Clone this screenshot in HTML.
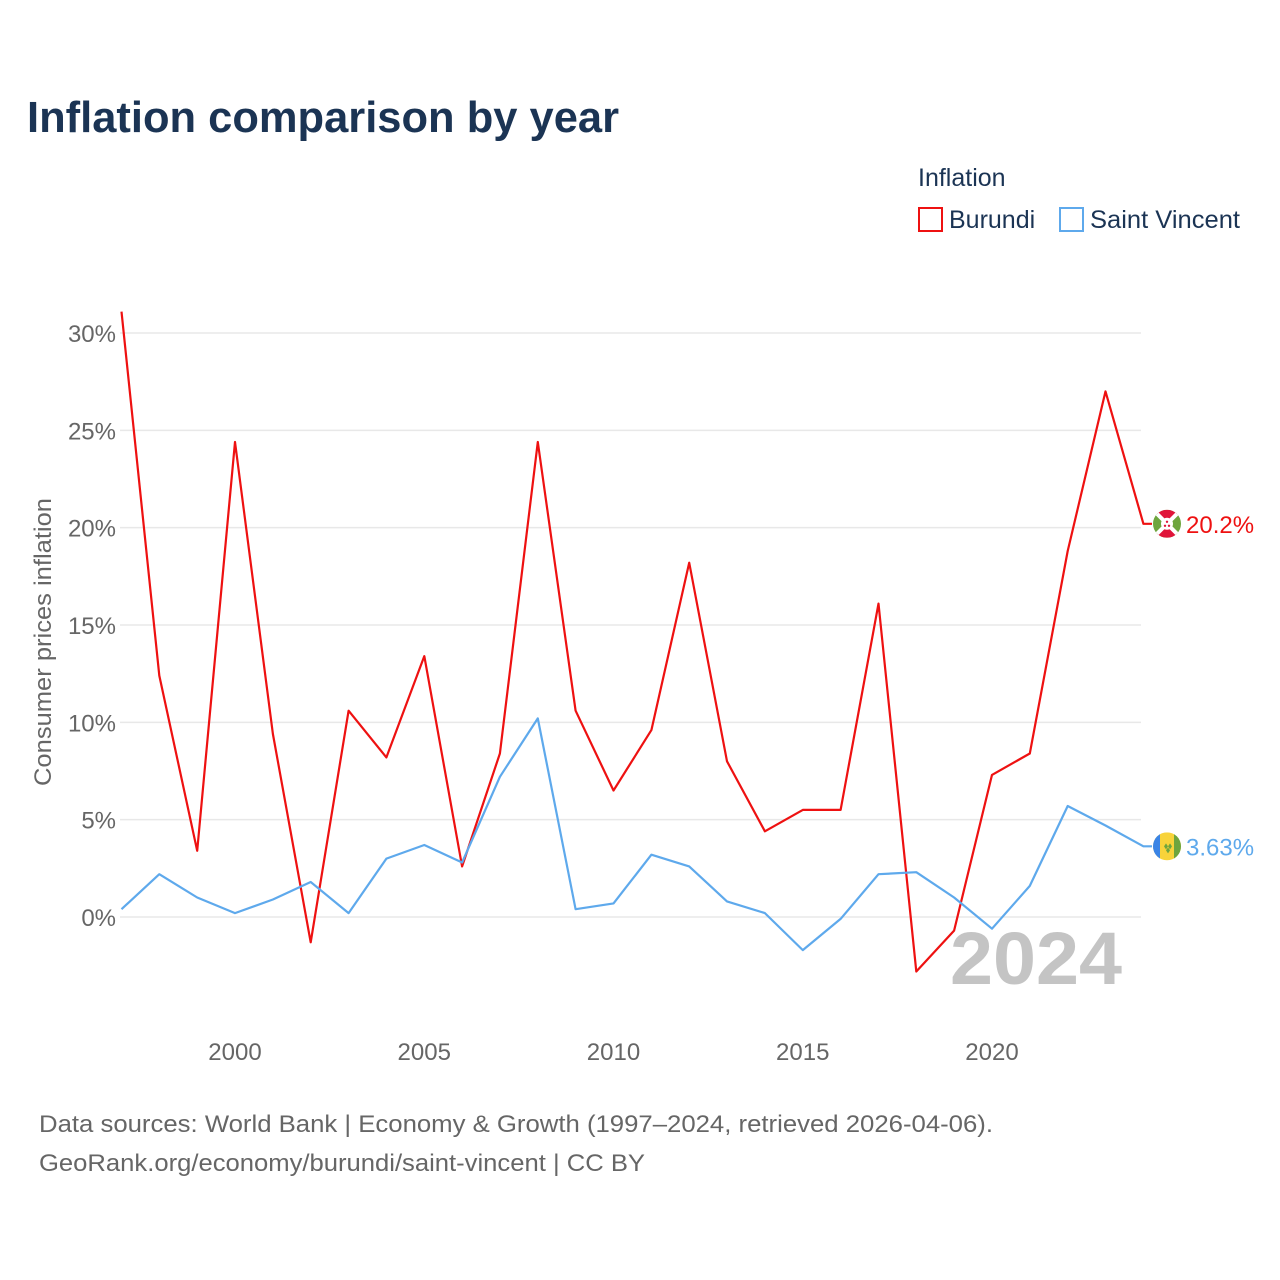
<!DOCTYPE html>
<html><head><meta charset="utf-8"><style>
html,body{margin:0;padding:0;background:#fff;width:1280px;height:1280px;overflow:hidden;font-family:"Liberation Sans",sans-serif}
</style></head><body>
<svg width="1280" height="1280" xmlns="http://www.w3.org/2000/svg" id="svg">
<defs>
<clipPath id="c1"><circle cx="1167" cy="0" r="14"/></clipPath>
</defs>
<text x="27" y="132" font-size="44" font-weight="bold" fill="#1b3454" textLength="592" lengthAdjust="spacingAndGlyphs">Inflation comparison by year</text>
<text x="918" y="186" font-size="25" fill="#1b3454">Inflation</text>
<g><rect x="919" y="208" width="23" height="23" fill="none" stroke="#ee1111" stroke-width="2"/><text x="949" y="228" font-size="25" fill="#1b3454">Burundi</text></g>
<g><rect x="1060" y="208" width="23" height="23" fill="none" stroke="#5ea9ec" stroke-width="2"/><text x="1090" y="228" font-size="25" fill="#1b3454" textLength="150" lengthAdjust="spacingAndGlyphs">Saint Vincent</text></g>
<g id="grid"></g>
<g id="marks"></g>
<text x="950" y="984" font-size="74" font-weight="bold" fill="#c4c4c4" textLength="172" lengthAdjust="spacingAndGlyphs">2024</text>
<text transform="translate(51,642) rotate(-90)" text-anchor="middle" font-size="24" fill="#666" textLength="288" lengthAdjust="spacingAndGlyphs">Consumer prices inflation</text>
<text x="39" y="1132" font-size="24" fill="#666" textLength="954" lengthAdjust="spacingAndGlyphs">Data sources: World Bank | Economy &amp; Growth (1997–2024, retrieved 2026-04-06).</text>
<text x="39" y="1171" font-size="24" fill="#666" textLength="606" lengthAdjust="spacingAndGlyphs">GeoRank.org/economy/burundi/saint-vincent | CC BY</text>
</svg>
<script>
const years=[1997,1998,1999,2000,2001,2002,2003,2004,2005,2006,2007,2008,2009,2010,2011,2012,2013,2014,2015,2016,2017,2018,2019,2020,2021,2022,2023,2024];
const burundi=[31.1,12.4,3.4,24.4,9.4,-1.3,10.6,8.2,13.4,2.6,8.4,24.4,10.6,6.5,9.6,18.2,8.0,4.4,5.5,5.5,16.1,-2.8,-0.7,7.3,8.4,18.8,27.0,20.2];
const stVincent=[0.4,2.2,1.0,0.2,0.9,1.8,0.2,3.0,3.7,2.8,7.2,10.2,0.4,0.7,3.2,2.6,0.8,0.2,-1.7,-0.1,2.2,2.3,1.0,-0.6,1.6,5.7,4.7,3.63];
const yTicks=[0,5,10,15,20,25,30];
const xTicks=[2000,2005,2010,2015,2020];
const NS="http://www.w3.org/2000/svg";
const X=y=>235+(y-2000)*(992-235)/20;
const Y=v=>917-v*(917-333)/30;
const grid=document.getElementById('grid'),marks=document.getElementById('marks');
function mk(t,a,p){const e=document.createElementNS(NS,t);for(const k in a)e.setAttribute(k,a[k]);p.appendChild(e);return e;}
yTicks.forEach(v=>{
 const l=mk('line',{x1:120,x2:1141,y1:Y(v),y2:Y(v),stroke:'#e8e8e8','stroke-width':1.5},grid);
 
 
 const t=mk('text',{x:116,y:Y(v)+9,'text-anchor':'end','font-size':24,fill:'#666'},grid);
 t.textContent=v+'%';
 
 
});
xTicks.forEach(v=>{
 const t=mk('text',{x:X(v),y:1060,'text-anchor':'middle','font-size':24,fill:'#666'},grid);
 t.textContent=v;
 
 
});
function series(vals,color,name,label){
 const d=vals.map((v,i)=>(i?'L':'M')+X(years[i]).toFixed(1)+','+Y(v).toFixed(1)).join('')+'H1152';
 const p=mk('path',{d:d,fill:'none',stroke:color,'stroke-width':2.2,'stroke-linejoin':'round'},marks);
 
 
 const last=vals[vals.length-1],cy=Y(last);
 const g=mk('g',{transform:`translate(0,${cy})`},marks);
 
 
 const inner=mk('g',{'clip-path':'url(#c1)'},g);
 if(name==='burundi'){
  mk('rect',{x:1153,y:-14,width:28,height:28,fill:'#6ea53e'},inner);
  mk('path',{d:'M1153,-14L1181,-14L1167,0Z M1153,14L1181,14L1167,0Z',fill:'#e0153a'},inner);
  mk('path',{d:'M1153,-14L1181,14M1181,-14L1153,14',stroke:'#fff','stroke-width':4},inner);
  mk('circle',{cx:1167,cy:0,r:6,fill:'#fff'},inner);
  mk('circle',{cx:1167,cy:-2,r:1.2,fill:'#e0153a'},inner);
  mk('circle',{cx:1165,cy:2,r:1.2,fill:'#e0153a'},inner);
  mk('circle',{cx:1169,cy:2,r:1.2,fill:'#e0153a'},inner);
 }else{
  mk('rect',{x:1153,y:-14,width:28,height:28,fill:'#f8d33a'},inner);
  mk('rect',{x:1153,y:-14,width:7,height:28,fill:'#3a84e6'},inner);
  mk('rect',{x:1174,y:-14,width:7,height:28,fill:'#6ea53e'},inner);
  mk('path',{d:'M1164,0l2,-3l2,3l-2,3Z M1168,0l2,-3l2,3l-2,3Z M1166,4l2,-3l2,3l-2,3Z',fill:'#6ea53e'},inner);
 }
 const t=mk('text',{x:1186,y:cy+9,'font-size':24,fill:color},marks);
 t.textContent=label;
 
 
}
series(burundi,'#ee1111','burundi','20.2%');
series(stVincent,'#5ea9ec','saint-vincent','3.63%');
</script>
</body></html>
